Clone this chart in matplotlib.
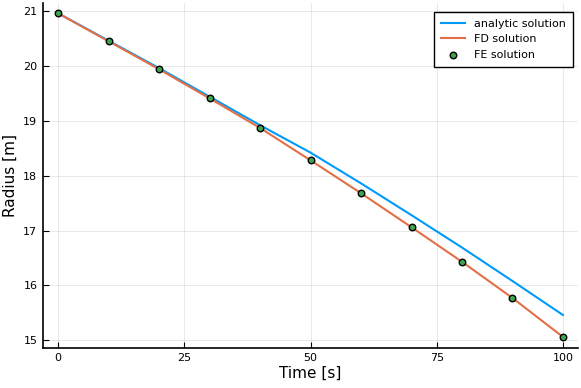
import matplotlib
matplotlib.use("Agg")
import matplotlib.pyplot as plt
import numpy as np

# data
t = [0, 10, 20, 30, 40, 50, 60, 70, 80, 90, 100]
r_analytic = [20.96, 20.46, 19.96, 19.44, 18.92, 18.42, 17.86, 17.28, 16.69, 16.08, 15.46]
r_fd = [20.96, 20.45, 19.94, 19.41, 18.87, 18.28, 17.68, 17.06, 16.43, 15.77, 15.06]
r_fe = [20.96, 20.45, 19.94, 19.41, 18.87, 18.28, 17.68, 17.06, 16.43, 15.77, 15.06]

xticks = [0, 25, 50, 75, 100]
yticks = [15, 16, 17, 18, 19, 20, 21]

fig = plt.figure(figsize=(5.81, 3.88), dpi=100)
ax = fig.add_axes([0.074, 0.104, 0.921, 0.888])

ax.plot(t, r_analytic, color="#009AFA", lw=1.5, label="analytic solution")
ax.plot(t, r_fd, color="#E36F47", lw=1.5, label="FD solution")
ax.scatter(t, r_fe, s=22, color="#3EA44E", edgecolors="black", linewidths=1.0,
           zorder=3, label="FE solution")

ax.set_xlim(-3, 103)
ax.set_ylim(14.865, 21.146)
ax.set_xticks(xticks)
ax.set_yticks(yticks)
ax.grid(True, color="black", alpha=0.1, lw=0.6)
ax.set_axisbelow(True)

for s in ["top", "right"]:
    ax.spines[s].set_visible(False)
for s in ["left", "bottom"]:
    ax.spines[s].set_linewidth(1.2)
ax.tick_params(direction="in", length=4, width=0.8, labelsize=8, pad=4)

ax.set_xlabel("Time [s]", fontsize=11, labelpad=2)
ax.set_ylabel("Radius [m]", fontsize=11, labelpad=4)

leg = ax.legend(loc="upper right", fontsize=8, frameon=True, fancybox=False,
                edgecolor="black", framealpha=1, borderpad=0.6, handlelength=2.2,
                bbox_to_anchor=(1.0, 0.99))
leg.get_frame().set_linewidth(1.0)

fig.savefig("out.png", dpi=100)
